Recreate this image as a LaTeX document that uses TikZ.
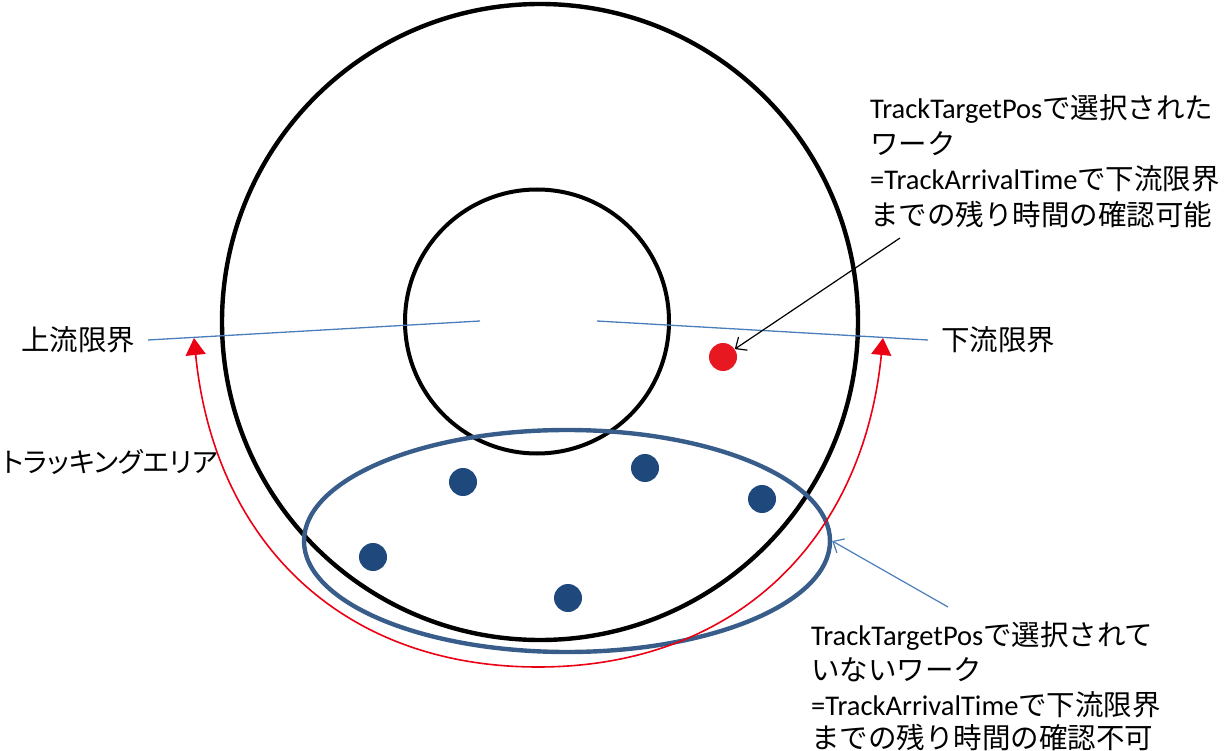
\documentclass[tikz,border=0pt]{standalone}
\usepackage{fontspec}
\setmainfont{Carlito}
\newfontfamily\jp{Noto Sans CJK JP}
\newfontfamily\jpp[RawFeature=+palt]{Noto Sans CJK JP}
\usetikzlibrary{shapes.geometric,arrows.meta}
\definecolor{ringblue}{HTML}{385D8A}
\definecolor{dotblue}{HTML}{1F497D}
\definecolor{lineblue}{HTML}{4A7EBB}
\definecolor{arcred}{RGB}{235,0,20}
\definecolor{dotred}{RGB}{232,24,32}
\begin{document}
\begin{tikzpicture}[x=1pt,y=-1pt,
  ring/.style={circle,draw=black,line width=4.4pt,inner sep=0},
  work/.style={circle,inner sep=0,minimum size=28pt},
  lbl/.style={inner sep=0,anchor=base west,font=\fontsize{28.5}{34}\selectfont},
  bline/.style={draw=lineblue,line width=1.3pt},
  redarc/.style={draw=arcred,line width=1.6pt,
    {Triangle[length=17pt,width=20pt]}-{Triangle[length=17pt,width=20pt]}},
  pointer/.style={line width=1.2pt,-{Straight Barb[length=9pt,width=16pt]}}]
\useasboundingbox (0,0) rectangle (1224,751);
% circles
\node[ring,minimum size=636pt] (outer) at (540,322) {};
\node[ring,line width=4pt,minimum size=264pt] (inner) at (537,321.5) {};
% tracking area ellipse
\node[ellipse,draw=ringblue,line width=4.4pt,inner sep=0,
  minimum width=526pt,minimum height=222pt] (area) at (567,541) {};
% works
\node[work,fill=dotred] (reddot) at (723,357) {};
\node[work,fill=dotblue] (w1) at (463,482) {};
\node[work,fill=dotblue] (w2) at (645,468) {};
\node[work,fill=dotblue] (w3) at (762,499) {};
\node[work,fill=dotblue] (w4) at (373,557) {};
\node[work,fill=dotblue] (w5) at (568,598) {};
% limit lines
\coordinate (upL) at (148,340);
\coordinate (upR) at (480,321);
\coordinate (dnL) at (597,321);
\coordinate (dnR) at (928,340);
\draw[bline] (upL) -- (upR);
\draw[bline] (dnL) -- (dnR);
% red arc
\coordinate (uptip) at (194,338);
\coordinate (downtip) at (883,338);
\coordinate (redbot) at (538,667);
\draw[redarc] (uptip) .. controls (214,540) and (340,667) .. (redbot)
  .. controls (736,667) and (863,540) .. (downtip);
% labels
\node[lbl] (up) at (21,351) {\jp 上流限界};
\node[lbl] (down) at (941,351) {\jp 下流限界};
\node[lbl,anchor=base east,font=\fontsize{27.5}{33}\selectfont] (track) at (218,472) {\jpp トラッキングエリア};
\node[lbl] (a1l1) at (870,119) {TrackTargetPos{\jp で選択された}};
\node[lbl] (a1l2) at (870,155) {\jp ワーク};
\node[lbl] (a1l3) at (870,190) {=TrackArrivalTime{\jp で下流限界}};
\node[lbl] (a1l4) at (870,226) {\jp までの残り時間の確認可能};
\node[lbl] (a2l1) at (811,645) {TrackTargetPos{\jp で選択されて}};
\node[lbl] (a2l2) at (811,680) {\jp いないワーク};
\node[lbl] (a2l3) at (811,715) {=TrackArrivalTime{\jp で下流限界}};
\node[lbl] (a2l4) at (811,748) {\jp までの残り時間の確認不可};
% pointers
\coordinate (p1) at (900,238);
\coordinate (p2) at (948,607);
\draw[pointer] (p1) -- (reddot);
\draw[pointer,draw=lineblue] (p2) -- (area.east);
\end{tikzpicture}
\end{document}
